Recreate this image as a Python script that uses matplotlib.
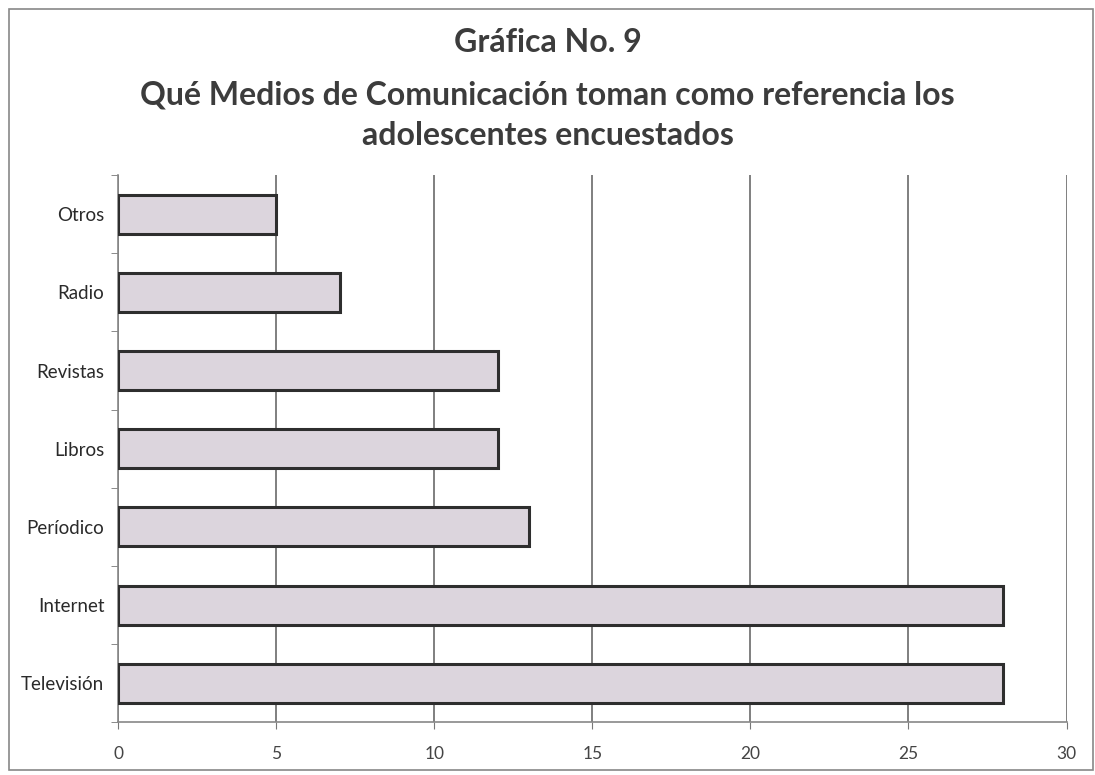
import matplotlib.pyplot as plt
from matplotlib.patches import Rectangle

# datos (de abajo hacia arriba)
categorias = ['Televisión', 'Internet', 'Períodico', 'Libros', 'Revistas', 'Radio', 'Otros']
valores = [28, 28, 13, 12, 12, 7, 5]
ticks_x = [0, 5, 10, 15, 20, 25, 30]

plt.rcParams['font.family'] = ['Lato', 'DejaVu Sans']

fig = plt.figure(figsize=(10.95, 7.75), dpi=100)
ax = fig.add_axes([0.108, 0.068, 0.866, 0.706])

ax.barh(range(len(categorias)), valores, height=0.5,
        color='#dcd5dd', edgecolor='#2e2e2e', linewidth=2.2, zorder=3)

ax.set_xlim(0, 30)
ax.set_ylim(-0.5, len(categorias) - 0.5)
ax.set_xticks(ticks_x)
ax.set_xticklabels([str(t) for t in ticks_x], fontsize=12.5, color='#444444')
ax.set_yticks(range(len(categorias)))
ax.set_yticklabels(categorias, fontsize=13.5, color='#2a2a2a')
ax.tick_params(axis='y', length=0, pad=10)
ax.tick_params(axis='x', length=5, color='#777777', pad=12)

# marcas menores en los limites de categoria
ax.set_yticks([i - 0.5 for i in range(len(categorias) + 1)], minor=True)
ax.tick_params(axis='y', which='minor', length=5, color='#777777')

ax.grid(axis='x', color='#6a6a6a', linewidth=1.2, zorder=0)
for s in ['top', 'right']:
    ax.spines[s].set_visible(False)
for s in ['left', 'bottom']:
    ax.spines[s].set_color('#888888')
    ax.spines[s].set_linewidth(1.2)

titulo_kw = dict(ha='center', va='center', fontsize=23, fontweight='bold', color='#3c3c3c')
fig.text(0.5, 0.945, 'Gráfica No. 9', **titulo_kw)
fig.text(0.5, 0.878, 'Qué Medios de Comunicación toman como referencia los', **titulo_kw)
fig.text(0.5, 0.825, 'adolescentes encuestados', **titulo_kw)

# borde del area del grafico
fig.patches.append(Rectangle((0.008, 0.006), 0.99, 0.982, transform=fig.transFigure,
                             fill=False, edgecolor='#888888', linewidth=1.2))

fig.savefig('out.png', dpi=100)
